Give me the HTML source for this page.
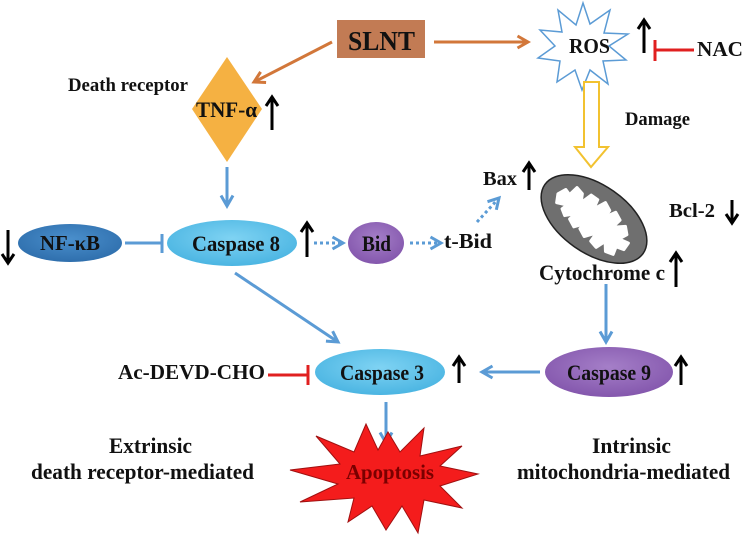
<!DOCTYPE html>
<html><head><meta charset="utf-8"><style>
html,body{margin:0;padding:0;background:#fff;}
svg{display:block;}
text{font-family:"Liberation Serif",serif;font-weight:bold;fill:#111;}
</style></head><body>
<svg width="743" height="539" viewBox="0 0 743 539" xmlns="http://www.w3.org/2000/svg">
<defs>
<marker id="ob" viewBox="0 0 10 10" refX="8" refY="5" markerWidth="5" markerHeight="5" orient="auto"><path d="M1,1 L8,5 L1,9" fill="none" stroke="#5B9BD5" stroke-width="2"/></marker>
<marker id="oo" viewBox="0 0 10 10" refX="8" refY="5" markerWidth="5" markerHeight="5" orient="auto"><path d="M1,1 L8,5 L1,9" fill="none" stroke="#D2773A" stroke-width="2"/></marker>
<radialGradient id="lb" cx="50%" cy="40%" r="60%"><stop offset="0" stop-color="#7fd3f3"/><stop offset="1" stop-color="#4bb5e2"/></radialGradient>
<radialGradient id="pp" cx="50%" cy="40%" r="60%"><stop offset="0" stop-color="#a57fc8"/><stop offset="1" stop-color="#8457ad"/></radialGradient>
<radialGradient id="db" cx="50%" cy="40%" r="60%"><stop offset="0" stop-color="#4a8fcc"/><stop offset="1" stop-color="#2f6fad"/></radialGradient>
</defs>
<g fill="none" stroke="#000" stroke-width="3">
<path d="M644,53 V21 M638,29 L644,20 L650,29"/>
<path d="M272,130 V98 M266,106 L272,97 L278,106"/>
<path d="M307,257 V224 M301,232 L307,223 L313,232"/>
<path d="M529,190 V164 M523,172 L529,163 L535,172"/>
<path d="M676,287 V254 M670,262 L676,253 L682,262"/>
<path d="M459,383 V358 M453,366 L459,357 L465,366"/>
<path d="M681,385 V358 M675,366 L681,357 L687,366"/>
<path d="M8,230 V262 M2,254 L8,263 L14,254"/>
<path d="M732,200 V222 M726,214 L732,223 L738,214"/>
</g>

<rect x="337" y="20" width="88" height="38" fill="#C27B54"/>
<text x="348" y="50" font-size="27" textLength="67" lengthAdjust="spacingAndGlyphs">SLNT</text>
<line x1="434" y1="42" x2="528" y2="42" stroke="#D2773A" stroke-width="3" marker-end="url(#oo)"/>
<line x1="332" y1="42" x2="254" y2="82" stroke="#D2773A" stroke-width="3" marker-end="url(#oo)"/>

<polygon points="583,3 590,24 610,10 604,33 628,34 609,46 626,60 603,61 608,84 590,70 582,90 575,70 557,82 560,61 538,58 555,46 540,30 562,32 558,10 576,25" fill="#fff" stroke="#5B9BD5" stroke-width="1.5"/>
<text x="569" y="53" font-size="21" textLength="41" lengthAdjust="spacingAndGlyphs">ROS</text>
<line x1="694" y1="50" x2="655" y2="50" stroke="#E02020" stroke-width="3"/>
<line x1="655" y1="40" x2="655" y2="61" stroke="#E02020" stroke-width="3"/>
<text x="697" y="56" font-size="21" textLength="46" lengthAdjust="spacingAndGlyphs">NAC</text>

<polygon points="584,82 599,82 599,147 608,147 591,167 575,147 584,147" fill="#fff" stroke="#F2C230" stroke-width="2"/>
<text x="625" y="125" font-size="19" textLength="65" lengthAdjust="spacingAndGlyphs">Damage</text>

<g transform="translate(594,219) rotate(35)">
<ellipse rx="60" ry="34" fill="#6f6f6f" stroke="#222" stroke-width="1.5"/>
<path d="M-44,0 L-40,-8 L-34,-6 L-32,-16 L-24,-14 L-20,-6 L-16,-18 L-8,-18 L-6,-8 L0,-20 L8,-16 L8,-8 L14,-18 L22,-14 L20,-4 L30,-12 L36,-6 L32,2 L42,0 L42,8 L34,10 L36,18 L28,20 L22,12 L18,22 L10,20 L10,10 L2,20 L-6,16 L-4,8 L-12,18 L-20,14 L-18,6 L-26,14 L-32,10 L-30,4 L-40,8 Z" fill="#fff" stroke="#fff" stroke-width="3" stroke-linejoin="round"/>
</g>
<text x="483" y="185" font-size="20" textLength="34" lengthAdjust="spacingAndGlyphs">Bax</text>
<text x="669" y="217" font-size="20" textLength="46" lengthAdjust="spacingAndGlyphs">Bcl-2</text>
<text x="539" y="280" font-size="22" textLength="126" lengthAdjust="spacingAndGlyphs">Cytochrome c</text>
<line x1="477" y1="222" x2="499" y2="198" stroke="#5B9BD5" stroke-width="3" stroke-dasharray="3,3" marker-end="url(#ob)"/>

<text x="68" y="91" font-size="19" textLength="120" lengthAdjust="spacingAndGlyphs">Death receptor</text>
<polygon points="227,57 262,109 227,162 192,109" fill="#F5B142"/>
<text x="196" y="117" font-size="22" textLength="61" lengthAdjust="spacingAndGlyphs">TNF-α</text>
<line x1="227" y1="167" x2="227" y2="206" stroke="#5B9BD5" stroke-width="3" marker-end="url(#ob)"/>

<ellipse cx="70" cy="243" rx="52" ry="19" fill="url(#db)"/>
<text x="40" y="250" font-size="21" textLength="60" lengthAdjust="spacingAndGlyphs">NF-κB</text>
<line x1="125" y1="243" x2="162" y2="243" stroke="#5B9BD5" stroke-width="3"/>
<line x1="162" y1="234" x2="162" y2="253" stroke="#5B9BD5" stroke-width="3"/>
<ellipse cx="232" cy="243" rx="65" ry="23" fill="url(#lb)"/>
<text x="192" y="251" font-size="22" textLength="88" lengthAdjust="spacingAndGlyphs">Caspase 8</text>
<line x1="314" y1="243" x2="343" y2="243" stroke="#5B9BD5" stroke-width="3" stroke-dasharray="3,3" marker-end="url(#ob)"/>
<ellipse cx="376" cy="243" rx="28" ry="21" fill="url(#pp)"/>
<text x="362" y="251" font-size="22" textLength="29" lengthAdjust="spacingAndGlyphs">Bid</text>
<line x1="410" y1="243" x2="441" y2="243" stroke="#5B9BD5" stroke-width="3" stroke-dasharray="3,3" marker-end="url(#ob)"/>
<text x="444" y="248" font-size="21" textLength="48" lengthAdjust="spacingAndGlyphs">t-Bid</text>

<line x1="235" y1="273" x2="338" y2="342" stroke="#5B9BD5" stroke-width="3" marker-end="url(#ob)"/>

<text x="118" y="379" font-size="21" textLength="147" lengthAdjust="spacingAndGlyphs">Ac-DEVD-CHO</text>
<line x1="268" y1="375" x2="308" y2="375" stroke="#E02020" stroke-width="3"/>
<line x1="308" y1="365" x2="308" y2="385" stroke="#E02020" stroke-width="3"/>
<ellipse cx="380" cy="372" rx="65" ry="23" fill="url(#lb)"/>
<text x="340" y="380" font-size="22" textLength="84" lengthAdjust="spacingAndGlyphs">Caspase 3</text>
<line x1="540" y1="372" x2="482" y2="372" stroke="#5B9BD5" stroke-width="3" marker-end="url(#ob)"/>
<ellipse cx="609" cy="372" rx="64" ry="25" fill="url(#pp)"/>
<text x="567" y="380" font-size="22" textLength="84" lengthAdjust="spacingAndGlyphs">Caspase 9</text>
<line x1="606" y1="284" x2="606" y2="342" stroke="#5B9BD5" stroke-width="3" marker-end="url(#ob)"/>
<line x1="386" y1="402" x2="386" y2="443" stroke="#5B9BD5" stroke-width="3" marker-end="url(#ob)"/>

<polygon points="388,432 400,452 424,428 420,456 462,446 440,466 478,474 440,486 462,508 424,500 418,533 402,506 386,530 372,506 348,522 354,498 300,502 338,484 290,470 340,464 316,436 354,452 366,424 378,450" fill="#F41C1C" stroke="#a01010" stroke-width="1"/>
<text x="346" y="479" font-size="21" textLength="88" lengthAdjust="spacingAndGlyphs" style="fill:#7a0000">Apoptosis</text>

<text x="109" y="453" font-size="22" textLength="83" lengthAdjust="spacingAndGlyphs">Extrinsic</text>
<text x="31" y="479" font-size="22" textLength="223" lengthAdjust="spacingAndGlyphs">death receptor-mediated</text>
<text x="592" y="453" font-size="22" textLength="79" lengthAdjust="spacingAndGlyphs">Intrinsic</text>
<text x="517" y="479" font-size="22" textLength="213" lengthAdjust="spacingAndGlyphs">mitochondria-mediated</text>
</svg>
</body></html>
